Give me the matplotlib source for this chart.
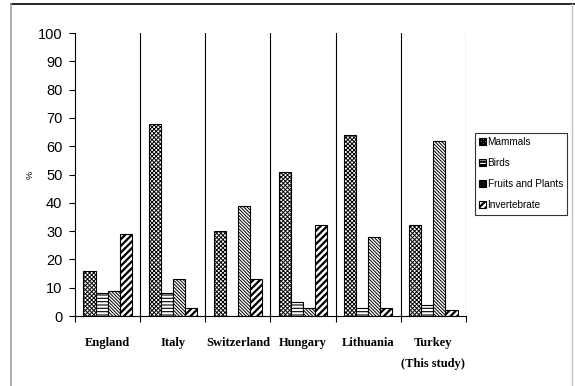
import numpy as np
import matplotlib.pyplot as plt
from matplotlib.lines import Line2D

countries = ['England', 'Italy', 'Switzerland', 'Hungary', 'Lithuania', 'Turkey\n(This study)']
series = ['Mammals', 'Birds', 'Fruits and Plants', 'Invertebrate']
mammals = [16, 68, 30, 51, 64, 32]
birds = [8, 8, 0, 5, 3, 4]
fruits = [9, 13, 39, 3, 28, 62]
invertebrate = [29, 3, 13, 32, 3, 2]

values = [mammals, birds, fruits, invertebrate]
hatches = ['xxxxxxxx', '-----', '\\' * 10, '/////']
hatch_lw = [0.7, 0.8, 0.7, 1.6]

fig = plt.figure(figsize=(5.75, 3.86), dpi=100)
ax = fig.add_axes([0.1304, 0.1813, 0.68, 0.7332])

x = np.arange(len(countries))
w = 0.185
for i, (name, vals) in enumerate(zip(series, values)):
    plt.rcParams['hatch.linewidth'] = hatch_lw[i]
    bars = ax.bar(x + (i - 1.5) * w, vals, w, color='white', edgecolor='black',
                  hatch=hatches[i], linewidth=0.8, label=name)
    for b in bars:
        if hasattr(b, 'set_hatch_linewidth'):
            b.set_hatch_linewidth(hatch_lw[i])

ax.set_xlim(-0.5, len(countries) - 0.5)
ax.set_ylim(0, 100)
ax.set_yticks(range(0, 101, 10))
ax.tick_params(axis='y', direction='out', length=4, width=0.8,
               labelsize=10.5, pad=5)
for t in ax.get_yticklabels():
    t.set_family('Liberation Sans')

ax.set_xticks(np.arange(len(countries) + 1) - 0.5)
ax.set_xticklabels([])
ax.tick_params(axis='x', direction='out', length=4, width=0.8)
for xi, c in zip(x, countries):
    ax.text(xi, -7.5, c, ha='center', va='top', fontsize=9, fontweight='bold',
            family='Liberation Serif', linespacing=2.0)

for b in np.arange(1, len(countries) + 1) - 0.5:
    ax.axvline(b, color='black', linewidth=0.8)

ax.spines['top'].set_visible(False)
ax.spines['right'].set_visible(False)
ax.spines['left'].set_color('black')
ax.spines['bottom'].set_color('black')

ax.set_ylabel('%', fontsize=6.5, family='Liberation Sans', labelpad=2)

leg = ax.legend(loc='upper left', bbox_to_anchor=(1.022, 0.648), frameon=True,
                fancybox=False, edgecolor='black',
                handlelength=0.7, handleheight=0.8, handletextpad=0.15,
                borderpad=0.45, labelspacing=1.1, borderaxespad=0,
                prop={'family': 'Liberation Sans', 'size': 7.2})
leg.get_frame().set_linewidth(0.8)

fig.add_artist(Line2D([11 / 575, 1], [1 - 4 / 386, 1 - 4 / 386], color='black', linewidth=1.2))
fig.add_artist(Line2D([11 / 575, 11 / 575], [0, 1 - 4 / 386], color='#a0a0a0', linewidth=1.2))
fig.add_artist(Line2D([572 / 575, 572 / 575], [0, 1 - 4 / 386], color='#c0c0c0', linewidth=1.0))

fig.savefig('out.png', dpi=100)
